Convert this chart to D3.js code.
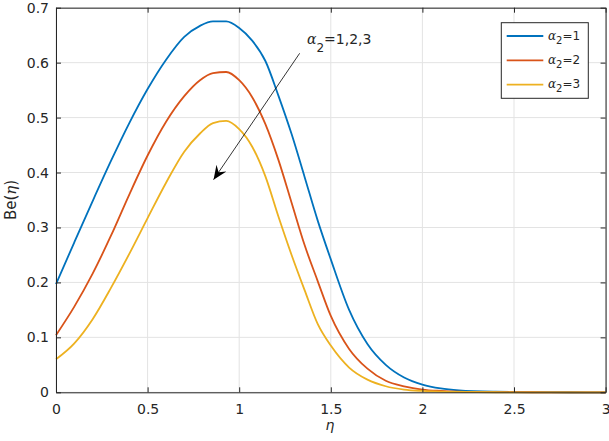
<!DOCTYPE html>
<html>
<head>
<meta charset="utf-8">
<script src="https://cdn.jsdelivr.net/npm/d3@7"></script>
<style>
  html, body { margin: 0; padding: 0; background: #fff; }
  svg { display: block; }
  text { font-family: "DejaVu Sans", sans-serif; fill: #262626; }
</style>
</head>
<body>
<svg id="chart" width="609" height="441"></svg>
<script>
// ---- data ----
const eta = [0, 0.1, 0.2, 0.3, 0.4, 0.5, 0.6, 0.7, 0.786, 0.857, 0.929, 1.0, 1.071, 1.143,
             1.214, 1.286, 1.357, 1.429, 1.5, 1.6, 1.7, 1.8, 1.9, 2.0, 2.1, 2.2, 2.4, 2.6, 2.8, 3.0];
const be_a1 = [0.197, 0.273, 0.348, 0.421, 0.490, 0.552, 0.605, 0.647, 0.667, 0.675, 0.675, 0.663, 0.640, 0.603,
               0.540, 0.470, 0.392, 0.312, 0.242, 0.150, 0.088, 0.050, 0.027, 0.014, 0.007, 0.0035, 0.001, 0.0003, 0.0001, 0];
const be_a2 = [0.104, 0.156, 0.216, 0.285, 0.360, 0.431, 0.492, 0.539, 0.568, 0.581, 0.583, 0.568, 0.537, 0.488,
               0.423, 0.345, 0.268, 0.202, 0.139, 0.079, 0.043, 0.021, 0.011, 0.005, 0.0025, 0.0012, 0.0003, 0.0001, 0, 0];
const be_a3 = [0.060, 0.089, 0.133, 0.190, 0.252, 0.317, 0.381, 0.438, 0.471, 0.490, 0.494, 0.479, 0.447, 0.393,
               0.320, 0.250, 0.186, 0.124, 0.085, 0.045, 0.023, 0.011, 0.005, 0.0025, 0.0012, 0.0006, 0.0001, 0, 0, 0];
const seriesNames = ["1", "2", "3"];
const xTicks = [0, 0.5, 1, 1.5, 2, 2.5, 3];
const xTickLabels = ["0", "0.5", "1", "1.5", "2", "2.5", "3"];
const yTicks = [0, 0.1, 0.2, 0.3, 0.4, 0.5, 0.6, 0.7];
const yTickLabels = ["0", "0.1", "0.2", "0.3", "0.4", "0.5", "0.6", "0.7"];
const arrowFrom = [1.33, 0.617];
const arrowTo = [0.86, 0.387];
const annotAt = [1.37, 0.634];

// ---- layout ----
const colors = ["#0072BD", "#D95319", "#EDB120"];
const L = 56, R = 605.6, T = 7.7, B = 392.3;
const svg = d3.select("#chart");
const x = d3.scaleLinear().domain([0, 3]).range([L, R]);
const y = d3.scaleLinear().domain([0, 0.7]).range([B, T]);

// grid
const grid = svg.append("g").attr("stroke", "#e3e3e3").attr("stroke-width", 1);
grid.selectAll(".gx").data(xTicks).join("line")
  .attr("x1", d => x(d)).attr("x2", d => x(d)).attr("y1", T).attr("y2", B);
grid.selectAll(".gy").data(yTicks).join("line")
  .attr("y1", d => y(d)).attr("y2", d => y(d)).attr("x1", L).attr("x2", R);

// lines
const series = [be_a1, be_a2, be_a3];
const line = d3.line().x(d => x(d[0])).y(d => y(d[1])).curve(d3.curveMonotoneX);
series.forEach((vals, i) => {
  svg.append("path")
    .datum(eta.map((e, j) => [e, vals[j]]))
    .attr("fill", "none")
    .attr("stroke", colors[i])
    .attr("stroke-width", 1.8)
    .attr("stroke-linejoin", "round")
    .attr("d", line);
});

// axes
const fmtX = (d) => xTickLabels[xTicks.indexOf(d)];
const fmtY = (d) => yTickLabels[yTicks.indexOf(d)];
function styleAxis(g) {
  g.select(".domain").attr("stroke", "#262626").attr("stroke-width", 1);
  g.selectAll(".tick line").attr("stroke", "#262626").attr("stroke-width", 1);
  g.selectAll("text").attr("font-family", "DejaVu Sans, sans-serif").attr("font-size", "14px").attr("fill", "#262626");
}
svg.append("g").attr("transform", `translate(0,${B})`)
  .call(d3.axisBottom(x).tickValues(xTicks).tickFormat(fmtX).tickSize(-5).tickSizeOuter(0).tickPadding(12))
  .call(styleAxis);
svg.append("g").attr("transform", `translate(0,${T})`)
  .call(d3.axisTop(x).tickValues(xTicks).tickFormat("").tickSize(-5).tickSizeOuter(0))
  .call(styleAxis);
svg.append("g").attr("transform", `translate(${L},0)`)
  .call(d3.axisLeft(y).tickValues(yTicks).tickFormat(fmtY).tickSize(-5).tickSizeOuter(0).tickPadding(7))
  .call(styleAxis);
svg.append("g").attr("transform", `translate(${R},0)`)
  .call(d3.axisRight(y).tickValues(yTicks).tickFormat("").tickSize(-5).tickSizeOuter(0))
  .call(styleAxis);

// axis labels
svg.append("text").attr("x", 330).attr("y", 430)
  .attr("text-anchor", "middle").attr("font-family", "DejaVu Serif, serif")
  .attr("font-style", "italic").attr("font-size", "14px").text("η");
const yl = svg.append("text").attr("transform", `translate(16,200) rotate(-90)`)
  .attr("text-anchor", "middle").attr("font-size", "15px");
yl.append("tspan").text("Be(");
yl.append("tspan").attr("font-family", "DejaVu Serif, serif").attr("font-style", "italic").text("η");
yl.append("tspan").text(")");

// annotation arrow
const defs = svg.append("defs");
defs.append("marker").attr("id", "ah").attr("viewBox", "-14 -7 16 14")
  .attr("refX", 0).attr("refY", 0).attr("markerWidth", 16).attr("markerHeight", 14)
  .attr("markerUnits", "userSpaceOnUse").attr("orient", "auto")
  .append("path").attr("d", "M0,0 L-14,-6 L-9,0 L-14,6 Z").attr("fill", "#000");
svg.append("line")
  .attr("x1", x(arrowFrom[0])).attr("y1", y(arrowFrom[1]))
  .attr("x2", x(arrowTo[0])).attr("y2", y(arrowTo[1]))
  .attr("stroke", "#000").attr("stroke-width", 0.8).attr("marker-end", "url(#ah)");
const at = svg.append("text").attr("x", x(annotAt[0])).attr("y", y(annotAt[1]))
  .attr("font-size", "14px").attr("fill", "#000");
at.append("tspan").attr("font-family", "DejaVu Serif, serif").attr("font-style", "italic").text("α");
at.append("tspan").attr("font-size", "12px").attr("dy", 8).text("2");
at.append("tspan").attr("dy", -8).text("=1,2,3");

// legend
const lg = svg.append("g");
lg.append("rect").attr("x", 501.3).attr("y", 22.7).attr("width", 87).attr("height", 75.6)
  .attr("fill", "#fff").attr("stroke", "#262626").attr("stroke-width", 1);
seriesNames.forEach((n, i) => {
  const cy = 36 + i * 24.3;
  lg.append("line").attr("x1", 506.7).attr("x2", 543.3).attr("y1", cy).attr("y2", cy)
    .attr("stroke", colors[i]).attr("stroke-width", 1.8);
  const t = lg.append("text").attr("x", 548).attr("y", cy + 3.5).attr("font-size", "12px").attr("fill", "#000");
  t.append("tspan").attr("font-family", "DejaVu Serif, serif").attr("font-style", "italic").text("α");
  t.append("tspan").attr("font-size", "10px").attr("dy", 4).text("2");
  t.append("tspan").attr("dy", -4).text("=" + n);
});
</script>
</body>
</html>
